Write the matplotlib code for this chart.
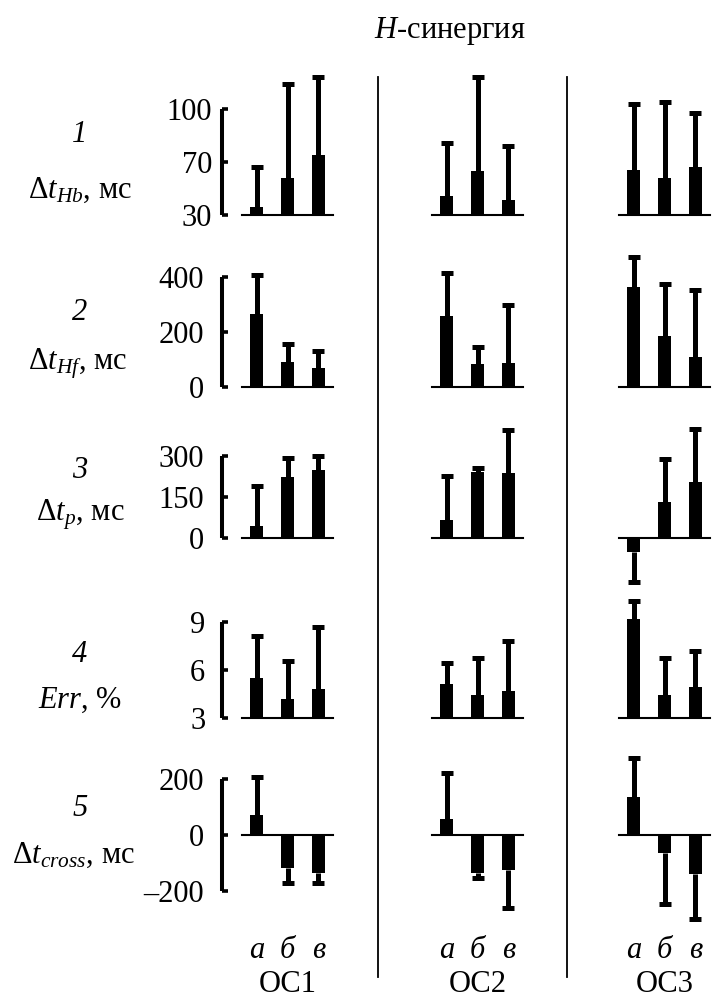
import matplotlib
matplotlib.use('Agg')
import matplotlib.pyplot as plt
from matplotlib.lines import Line2D
from matplotlib.transforms import blended_transform_factory
import numpy as np

plt.rcParams['font.family'] = ['Liberation Serif', 'DejaVu Serif']
plt.rcParams['mathtext.fontset'] = 'custom'
plt.rcParams['mathtext.rm'] = 'Liberation Serif'
plt.rcParams['mathtext.it'] = 'Liberation Serif:italic'

groups = ['ОС1', 'ОС2', 'ОС3']
conditions = ['а', 'б', 'в']
row_numbers = ['1', '2', '3', '4', '5']
row_labels = [r'$\Delta t_{Hb}$, мс', r'$\Delta t_{Hf}$, мс', r'$\Delta t_{p}$, мс',
              r'$Err$, %', r'$\Delta t_{cross}$, мс']
title = r'$H$-синергия'

# means per group (ОС1..ОС3) x condition (а, б, в)
hb_mean = [[36, 58, 74], [44, 63, 41], [64, 58, 66]]
hb_sd = [[30, 56, 44], [37, 55, 38], [39, 46, 32]]
hf_mean = [[264, 91, 67], [257, 81, 85], [364, 184, 109]]
hf_sd = [[143, 66, 63], [156, 65, 212], [108, 189, 243]]
p_mean = [[46, 223, 249], [67, 243, 237], [-49, 131, 207]]
p_sd = [[143, 70, 51], [160, 12, 158], [109, 158, 192]]
err_mean = [[5.5, 4.15, 4.8], [5.1, 4.4, 4.7], [9.15, 4.45, 4.95]]
err_sd = [[2.6, 2.4, 3.9], [1.3, 2.35, 3.1], [1.15, 2.3, 2.25]]
cross_mean = [[72, -120, -138], [56, -135, -126], [138, -66, -141]]
cross_sd = [[135, 51, 33], [167, 21, 137], [137, 183, 162]]

row_ticks = [[30, 70, 100], [0, 200, 400], [0, 150, 300], [3, 6, 9], [-200, 0, 200]]
row_means = [hb_mean, hf_mean, p_mean, err_mean, cross_mean]
row_sds = [hb_sd, hf_sd, p_sd, err_sd, cross_sd]
row_base = [30, 0, 0, 3, 0]


def hb_fwd(v):
    v = np.asarray(v, dtype=float)
    return np.where(v < 70, (v - 30) / 40., 1 + (v - 70) / 30.)


def hb_inv(u):
    u = np.asarray(u, dtype=float)
    return np.where(u < 1, 30 + 40 * u, 70 + 30 * (u - 1))


W, H = 712, 999
FS = 22
fig = plt.figure(figsize=(W / 100., H / 100.), dpi=100)

col_left = [242, 432, 619]
col_width = 91
rows_top = [109, 276.7, 456, 621.7, 779.3]
rows_bot = [215, 386.7, 538.3, 717.7, 890.7]
label_pad = [7, 13, 13, 12, 13]

x = np.arange(len(conditions))
axes_cols = []
for r in range(5):
    for c in range(3):
        ax = fig.add_axes([col_left[c] / W, 1 - rows_bot[r] / H, col_width / W,
                           (rows_bot[r] - rows_top[r]) / H])
        if r == 0:
            ax.set_yscale('function', functions=(hb_fwd, hb_inv))
        ax.set_xlim(-0.47, 2.47)
        ax.set_ylim(row_ticks[r][0], row_ticks[r][-1])
        base = row_base[r]
        means = np.array(row_means[r][c], dtype=float)
        sds = np.array(row_sds[r][c], dtype=float)
        ends = np.where(means >= base, means + sds, means - sds)
        ax.bar(x, means - base, bottom=base, width=0.41, color='black',
               clip_on=False, zorder=2)
        ax.vlines(x, means, ends, colors='black', linewidth=3.6, clip_on=False, zorder=3)
        ax.plot(x, ends, ls='none', marker='_', ms=9, mew=3.6, color='black',
                clip_on=False, zorder=3)

        for s in ['top', 'right']:
            ax.spines[s].set_visible(False)
        ax.spines['bottom'].set_position(('data', base))
        ax.spines['bottom'].set_linewidth(1.5)
        ax.set_xticks([])
        ax.patch.set_visible(False)
        ax.yaxis.set_minor_locator(matplotlib.ticker.NullLocator())
        if c == 0:
            ax.spines['left'].set_position(('outward', 14.4))
            ax.spines['left'].set_bounds(row_ticks[r][0], row_ticks[r][-1])
            ax.spines['left'].set_linewidth(2.9)
            ax.spines['left'].set_capstyle('butt')
            ax.set_yticks(row_ticks[r])
            ax.set_yticklabels([str(t).replace('-', '\u2013') for t in row_ticks[r]])
            ax.tick_params(axis='y', direction='in', length=4.5, width=2.6,
                           labelsize=FS, pad=label_pad[r])
        else:
            ax.spines['left'].set_visible(False)
            ax.tick_params(axis='y', left=False, labelleft=False)
        if r == 4:
            axes_cols.append(ax)

# row labels
num_y = [135, 313, 470, 655, 808]
lab_y = [190, 364, 515, 700, 855]
lab_x = [80, 78, 80, 80, 74]
for r in range(5):
    fig.text(80 / W, 1 - num_y[r] / H, row_numbers[r], fontsize=FS, fontstyle='italic',
             ha='center', va='center')
    fig.text(lab_x[r] / W, 1 - lab_y[r] / H, row_labels[r], fontsize=FS,
             ha='center', va='center')

# column labels
for c, ax in enumerate(axes_cols):
    tr = blended_transform_factory(ax.transData, fig.transFigure)
    for i, lab in enumerate(conditions):
        ax.text(x[i], 1 - 950 / H, lab, transform=tr, fontsize=FS, fontstyle='italic',
                ha='center', va='center')
    ax.text(1, 1 - 985 / H, groups[c], transform=tr, fontsize=FS, ha='center', va='center')

# separators
for sx in [378, 567]:
    fig.add_artist(Line2D([sx / W, sx / W], [1 - 77 / H, 1 - 977 / H],
                          transform=fig.transFigure, color='black', linewidth=1.3))

fig.text(450 / W, 1 - 31 / H, title, fontsize=FS, ha='center', va='center')

fig.savefig('out.png', dpi=100)
